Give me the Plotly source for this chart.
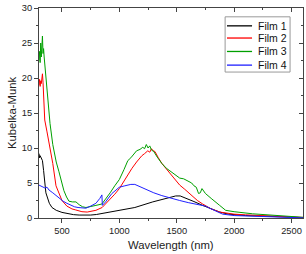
import plotly.graph_objects as go

# Film 1 (black)
wl1 = [300, 305, 310, 320, 330, 340, 350, 360, 372, 390, 413, 450, 500, 550, 600, 650, 700, 750, 800,
       900, 1000, 1135, 1291, 1370, 1440, 1491, 1530, 1578, 1650, 1726, 1800, 1874, 1950, 2000, 2100,
       2200, 2300, 2400, 2500, 2600]
km1 = [9.2, 8.6, 8.9, 8.4, 8.2, 6.8, 4.6, 3.6, 3.0, 2.1, 1.5, 1.1, 0.8, 0.6, 0.48, 0.42, 0.4, 0.42, 0.5,
       0.8, 1.05, 1.5, 2.3, 2.6, 2.95, 3.15, 3.15, 2.85, 2.35, 1.8, 1.3, 0.85, 0.55, 0.45, 0.35,
       0.3, 0.25, 0.2, 0.12, 0.05]

# Film 2 (red)
wl2 = [300, 305, 310, 315, 320, 325, 330, 335, 340, 350, 370, 396, 420, 448, 475, 500, 543, 587, 620, 674,
       720, 796, 850, 874, 920, 960, 1000, 1040, 1074, 1110, 1150, 1175, 1196, 1220, 1248, 1265, 1280,
       1295, 1310, 1340, 1370, 1410, 1450, 1490, 1526, 1570, 1613, 1650, 1680, 1726, 1800, 1874, 1950,
       2000, 2100, 2200, 2300, 2400, 2500, 2600]
km2 = [19.0, 19.8, 18.8, 19.6, 19.2, 20.2, 20.6, 19.4, 16.8, 14.0, 12.3, 10.0, 7.8, 4.6, 3.4, 2.5, 1.7, 1.3, 1.15, 0.9,
       0.85, 1.1, 1.5, 1.9, 2.7, 3.4, 4.2, 5.3, 6.3, 7.1, 8.0, 8.5, 8.9, 9.2, 9.6, 9.4, 9.9,
       9.6, 9.5, 8.6, 7.8, 7.0, 6.2, 5.4, 4.7, 4.1, 3.5, 3.0, 2.5, 2.0, 1.3, 0.85, 0.65,
       0.55, 0.45, 0.4, 0.3, 0.25, 0.15, 0.08]

# Film 3 (green)
wl3 = [300, 305, 310, 315, 320, 325, 330, 335, 340, 345, 350, 360, 380, 396, 420, 450, 474, 500, 517, 540,
       561, 590, 622, 650, 680, 709, 750, 796, 848, 883, 920, 960, 1000, 1040, 1074, 1100, 1130, 1150,
       1180, 1204, 1220, 1235, 1250, 1265, 1280, 1300, 1330, 1370, 1410, 1450, 1490, 1526, 1560, 1600,
       1630, 1650, 1670, 1690, 1705, 1720, 1750, 1800, 1840, 1874, 1926, 2000, 2161, 2300, 2400, 2500, 2600]
km3 = [22.5, 23.8, 22.2, 25.0, 23.0, 24.6, 26.0, 23.5, 24.2, 23.0, 22.0, 20.0, 16.0, 13.5, 10.5, 8.0, 6.6, 5.0, 3.9, 3.0,
       2.4, 2.3, 2.3, 1.9, 1.6, 1.5, 1.6, 1.8, 2.0, 2.7, 3.6, 4.6, 5.5, 6.9, 8.2, 8.6, 9.3, 9.6,
       9.8, 10.1, 9.9, 10.5, 10.0, 10.3, 9.7, 9.5, 8.7, 7.8, 7.1, 6.6, 6.1, 5.7, 5.6, 5.2,
       5.0, 4.6, 4.4, 3.5, 3.6, 4.2, 3.5, 2.8, 2.2, 1.8, 1.1, 0.9, 0.6, 0.45, 0.35, 0.2, 0.1]

# Film 4 (blue)
wl4 = [300, 320, 350, 370, 387, 420, 450, 474, 510, 543, 587, 610, 640, 709, 750, 796, 830, 848, 852, 880,
       935, 1000, 1048, 1100, 1135, 1200, 1300, 1370, 1450, 1526, 1600, 1680, 1726, 1750, 1800, 1850,
       1900, 2000, 2100, 2200, 2300, 2400, 2500, 2600]
km4 = [4.7, 4.5, 4.3, 4.4, 4.0, 3.6, 3.2, 2.8, 2.4, 2.1, 1.7, 1.6, 1.5, 1.4, 1.7, 2.1, 2.8, 3.3, 1.8, 2.3,
       3.5, 4.4, 4.6, 4.8, 4.8, 4.3, 3.6, 3.2, 2.8, 2.5, 2.2, 1.9, 1.8, 1.7, 1.3, 0.9,
       0.55, 0.35, 0.3, 0.25, 0.2, 0.12, 0.08, 0.02]

names = ["Film 1", "Film 2", "Film 3", "Film 4"]
colors = ["#000000", "#ff0000", "#00a000", "#2020ff"]
series = [(wl1, km1), (wl2, km2), (wl3, km3), (wl4, km4)]

x_range = [300, 2600]
y_range = [0, 30]
x_ticks = [500, 1000, 1500, 2000, 2500]
y_ticks = [0, 5, 10, 15, 20, 25, 30]

fig = go.Figure()
for (x, y), n, c in zip(series, names, colors):
    fig.add_trace(go.Scatter(x=x, y=y, mode="lines", name=n, line=dict(color=c, width=1),
                             showlegend=False))

# empty trace to hold the mirrored axes
fig.add_trace(go.Scatter(x=[], y=[], xaxis="x2", yaxis="y2", showlegend=False, hoverinfo="skip"))

axcol = "#444444"
font = "Liberation Sans, Arial, sans-serif"
common = dict(showgrid=False, zeroline=False, linecolor=axcol, linewidth=1, tickcolor=axcol,
              tickwidth=1, ticklen=4)

# compact legend box (paper coordinates of the plotting area)
leg_x0, leg_x1, leg_y0, leg_y1 = 0.705, 0.951, 0.695, 0.958
line_x0, line_x1, text_x = 0.712, 0.807, 0.822
row_y = [0.915, 0.857, 0.793, 0.728]
shapes = [dict(type="rect", xref="paper", yref="paper", x0=leg_x0, x1=leg_x1, y0=leg_y0, y1=leg_y1,
               line=dict(color="#999999", width=1), fillcolor="white", layer="above")]
annotations = []
for n, c, ry in zip(names, colors, row_y):
    shapes.append(dict(type="line", xref="paper", yref="paper", x0=line_x0, x1=line_x1, y0=ry, y1=ry,
                       line=dict(color=c, width=1.3), layer="above"))
    annotations.append(dict(text=n, xref="paper", yref="paper", x=text_x, y=ry, xanchor="left",
                            yanchor="middle", showarrow=False,
                            font=dict(size=10.5, color="#111111", family=font)))

# x-axis title placed below the tick labels
annotations.append(dict(text="Wavelength (nm)", xref="paper", yref="paper", x=0.5, y=-0.127,
                        xanchor="center", yanchor="middle", showarrow=False,
                        font=dict(size=11.3, color="#222222", family=font)))

fig.update_layout(
    width=306, height=254,
    margin=dict(l=39, r=3, t=5, b=36),
    paper_bgcolor="white", plot_bgcolor="white",
    font=dict(family=font, size=9.3, color="#222222"),
    showlegend=False,
    shapes=shapes,
    annotations=annotations,
    xaxis=dict(range=x_range, tickvals=x_ticks, ticks="outside",
               minor=dict(dtick=250, tick0=0, ticks="outside", ticklen=2, tickcolor=axcol),
               tickfont=dict(size=9.3), **common),
    yaxis=dict(range=y_range, tickvals=y_ticks, ticks="outside",
               minor=dict(dtick=2.5, tick0=0, ticks="outside", ticklen=2, tickcolor=axcol),
               title=dict(text="Kubelka-Munk", font=dict(size=11.3), standoff=2),
               tickfont=dict(size=9.3), **common),
    xaxis2=dict(range=x_range, overlaying="x", side="top", tickvals=x_ticks, ticks="inside",
                showticklabels=False,
                minor=dict(dtick=250, tick0=0, ticks="inside", ticklen=2, tickcolor=axcol),
                **common),
    yaxis2=dict(range=y_range, overlaying="y", side="right", tickvals=y_ticks, ticks="inside",
                showticklabels=False,
                minor=dict(dtick=2.5, tick0=0, ticks="inside", ticklen=2, tickcolor=axcol),
                **common),
)

fig.write_html("out.html", config={"displayModeBar": False},
               post_script="document.body.style.margin='0';document.body.style.overflow='hidden';")
